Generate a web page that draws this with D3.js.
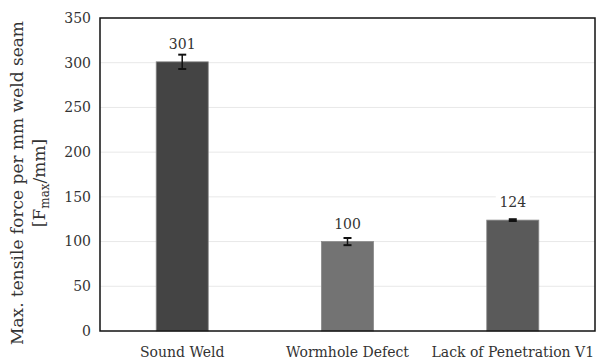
<!DOCTYPE html>
<html>
<head>
<meta charset="utf-8">
<script src="https://cdn.jsdelivr.net/npm/d3@7"></script>
<style>
  body { margin: 0; background: #fff; }
  text { font-family: "DejaVu Serif", "Liberation Serif", serif; fill: #333; }
</style>
</head>
<body>
<div class="wrapper"></div>
<script>
// chart data
var categories = ["Sound Weld", "Wormhole Defect", "Lack of Penetration V1"];
var values = [301, 100, 124];
var errors = [8, 4, 1];
var barColors = ["#444444", "#737373", "#5a5a5a"];
var yTicks = [0, 50, 100, 150, 200, 250, 300, 350];

var margin = {top: 18, right: 13, bottom: 31, left: 100},
    width = 608 - margin.left - margin.right,
    height = 362 - margin.top - margin.bottom;

var svg = d3.select(".wrapper")
  .append("svg")
    .attr("width", 608)
    .attr("height", 362)
  .append("g")
    .attr("transform", "translate(" + margin.left + "," + margin.top + ")");

var x = d3.scaleBand()
    .domain(categories)
    .range([0, width])
    .paddingInner(0.685)
    .paddingOuter(0.34);

var y = d3.scaleLinear()
    .domain([0, 350])
    .range([height, 0]);

// gridlines
svg.append("g")
  .selectAll("line")
  .data(yTicks.slice(1, -1))
  .enter().append("line")
    .attr("x1", 0)
    .attr("x2", width)
    .attr("y1", function(d) { return y(d); })
    .attr("y2", function(d) { return y(d); })
    .style("stroke", "#e8e8e8")
    .style("stroke-width", 1);

// y tick labels
svg.append("g")
  .selectAll("text")
  .data(yTicks)
  .enter().append("text")
    .attr("x", -9)
    .attr("y", function(d) { return y(d); })
    .attr("dy", "0.35em")
    .attr("text-anchor", "end")
    .style("font-size", "14px")
    .text(function(d) { return d; });

// bars
svg.append("g")
  .selectAll("rect")
  .data(values)
  .enter().append("rect")
    .attr("x", function(d, i) { return x(categories[i]); })
    .attr("y", function(d) { return y(d); })
    .attr("width", x.bandwidth())
    .attr("height", function(d) { return height - y(d); })
    .attr("fill", function(d, i) { return barColors[i]; })
    .style("stroke", "#8a8a8a")
    .style("stroke-width", 0.8);

// data labels with white backing (placed from bar top)
var lbl = svg.append("g")
  .selectAll("g")
  .data(values)
  .enter().append("g")
    .attr("transform", function(d, i) {
      return "translate(" + (x(categories[i]) + x.bandwidth() / 2) + "," + (y(d) - 13) + ")";
    });

lbl.append("rect")
    .attr("x", -17)
    .attr("y", -14)
    .attr("width", 34)
    .attr("height", 17)
    .attr("fill", "#fff");

lbl.append("text")
    .attr("text-anchor", "middle")
    .style("font-size", "14px")
    .text(function(d) { return d; });

// error bars
var eb = svg.append("g")
  .selectAll("g")
  .data(values)
  .enter().append("g")
    .attr("transform", function(d, i) { return "translate(" + (x(categories[i]) + x.bandwidth() / 2) + ",0)"; });

eb.append("line")
    .attr("y1", function(d, i) { return y(d - errors[i]); })
    .attr("y2", function(d, i) { return y(d + errors[i]); })
    .style("stroke", "#111")
    .style("stroke-width", 1.5);

eb.selectAll(".cap")
  .data(function(d, i) { return [d - errors[i], d + errors[i]]; })
  .enter().append("line")
    .attr("x1", -4)
    .attr("x2", 4)
    .attr("y1", function(d) { return y(d); })
    .attr("y2", function(d) { return y(d); })
    .style("stroke", "#111")
    .style("stroke-width", 2);

// frame
svg.append("rect")
    .attr("width", width)
    .attr("height", height)
    .attr("fill", "none")
    .style("stroke", "#111")
    .style("stroke-width", 1.5);

// category labels
svg.append("g")
  .selectAll("text")
  .data(categories)
  .enter().append("text")
    .attr("x", function(d) { return x(d) + x.bandwidth() / 2; })
    .attr("y", height + 26)
    .attr("text-anchor", "middle")
    .style("font-size", "14px")
    .text(function(d) { return d; });

// y axis title
var title = d3.select("svg").append("g")
    .attr("transform", "translate(0,183) rotate(-90)");

title.append("text")
    .attr("x", 0)
    .attr("y", 23)
    .attr("text-anchor", "middle")
    .style("font-size", "17px")
    .text("Max. tensile force per mm weld seam");

var t2 = title.append("text")
    .attr("x", 0)
    .attr("y", 45)
    .attr("text-anchor", "middle")
    .style("font-size", "17px");
t2.append("tspan").text("[F");
t2.append("tspan").attr("dy", 4).style("font-size", "12px").text("max");
t2.append("tspan").attr("dy", -4).text("/mm]");
</script>
</body>
</html>
